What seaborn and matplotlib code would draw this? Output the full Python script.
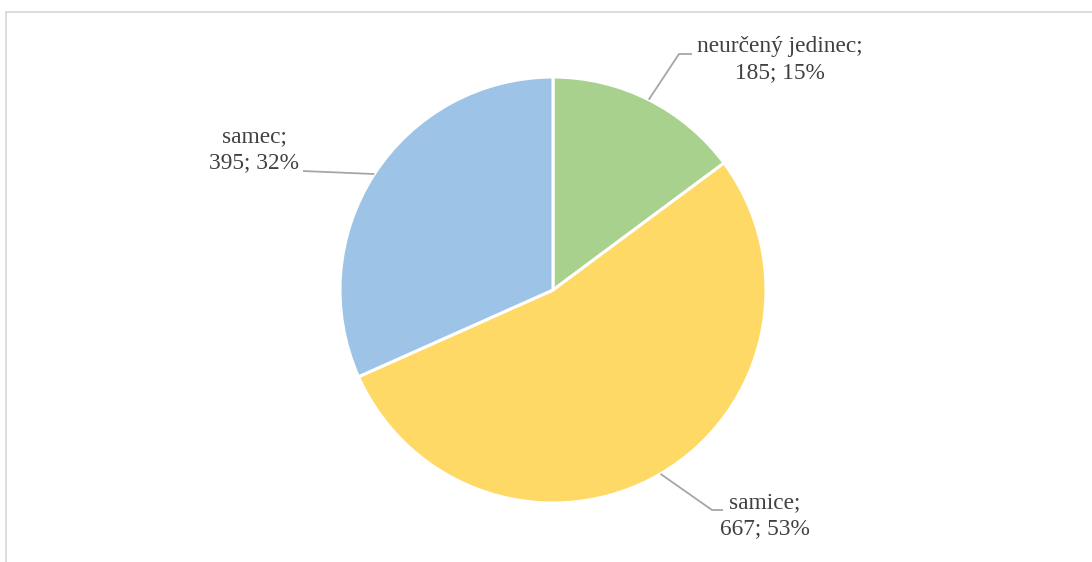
import numpy as np
import matplotlib
matplotlib.use("Agg")
import matplotlib.pyplot as plt
from matplotlib.patches import Rectangle
import seaborn as sns

# Data
categories = ["neurčený jedinec", "samice", "samec"]
counts = [185, 667, 395]
colors = ["#A9D18E", "#FFD966", "#9DC3E6"]

sns.set_theme(style="white")
plt.rcParams["font.family"] = ["Liberation Serif", "DejaVu Serif"]

W, H = 1092, 562
fig = plt.figure(figsize=(W / 100, H / 100), dpi=100)
ax = fig.add_axes([0, 0, 1, 1])

# chart frame (runs off the right and bottom edges)
fig.patches.append(Rectangle((6 / W, -0.2), 1.2, 1.2 - 11.5 / H, transform=fig.transFigure,
                             fill=False, edgecolor="#D9D9D9", linewidth=1.3))

cx, cy, r = 553, H - 290, 213
wedges, _ = ax.pie(counts, colors=colors, startangle=90, counterclock=False,
                   center=(cx, cy), radius=r,
                   wedgeprops=dict(edgecolor="white", linewidth=2.2))
ax.set_xlim(0, W)
ax.set_ylim(0, H)
ax.set_aspect("equal")
ax.axis("off")

total = sum(counts)
# label centres and leader-line elbow points (pixel coords from top)
label_pos = [(780, 60), (765, 516), (254, 150)]
leader_pts = [[(679, 54), (692, 54)], [(712, 510), (723, 510)], [(303, 171)]]

for w, cat, n, (lx, ly), pts in zip(wedges, categories, counts, label_pos, leader_pts):
    ang = np.deg2rad((w.theta1 + w.theta2) / 2)
    ex, ey = cx + r * np.cos(ang), cy + r * np.sin(ang)
    xs = [ex] + [p[0] for p in pts]
    ys = [ey] + [H - p[1] for p in pts]
    ax.plot(xs, ys, color="#A6A6A6", lw=1.3, solid_capstyle="butt")
    pct = round(100 * n / total)
    ax.text(lx, H - ly, f"{cat};\n{n}; {pct}%", ha="center", va="center",
            multialignment="center", fontsize=16.8, color="#404040", linespacing=1.32)

fig.savefig("out.png", dpi=100, facecolor="white")
